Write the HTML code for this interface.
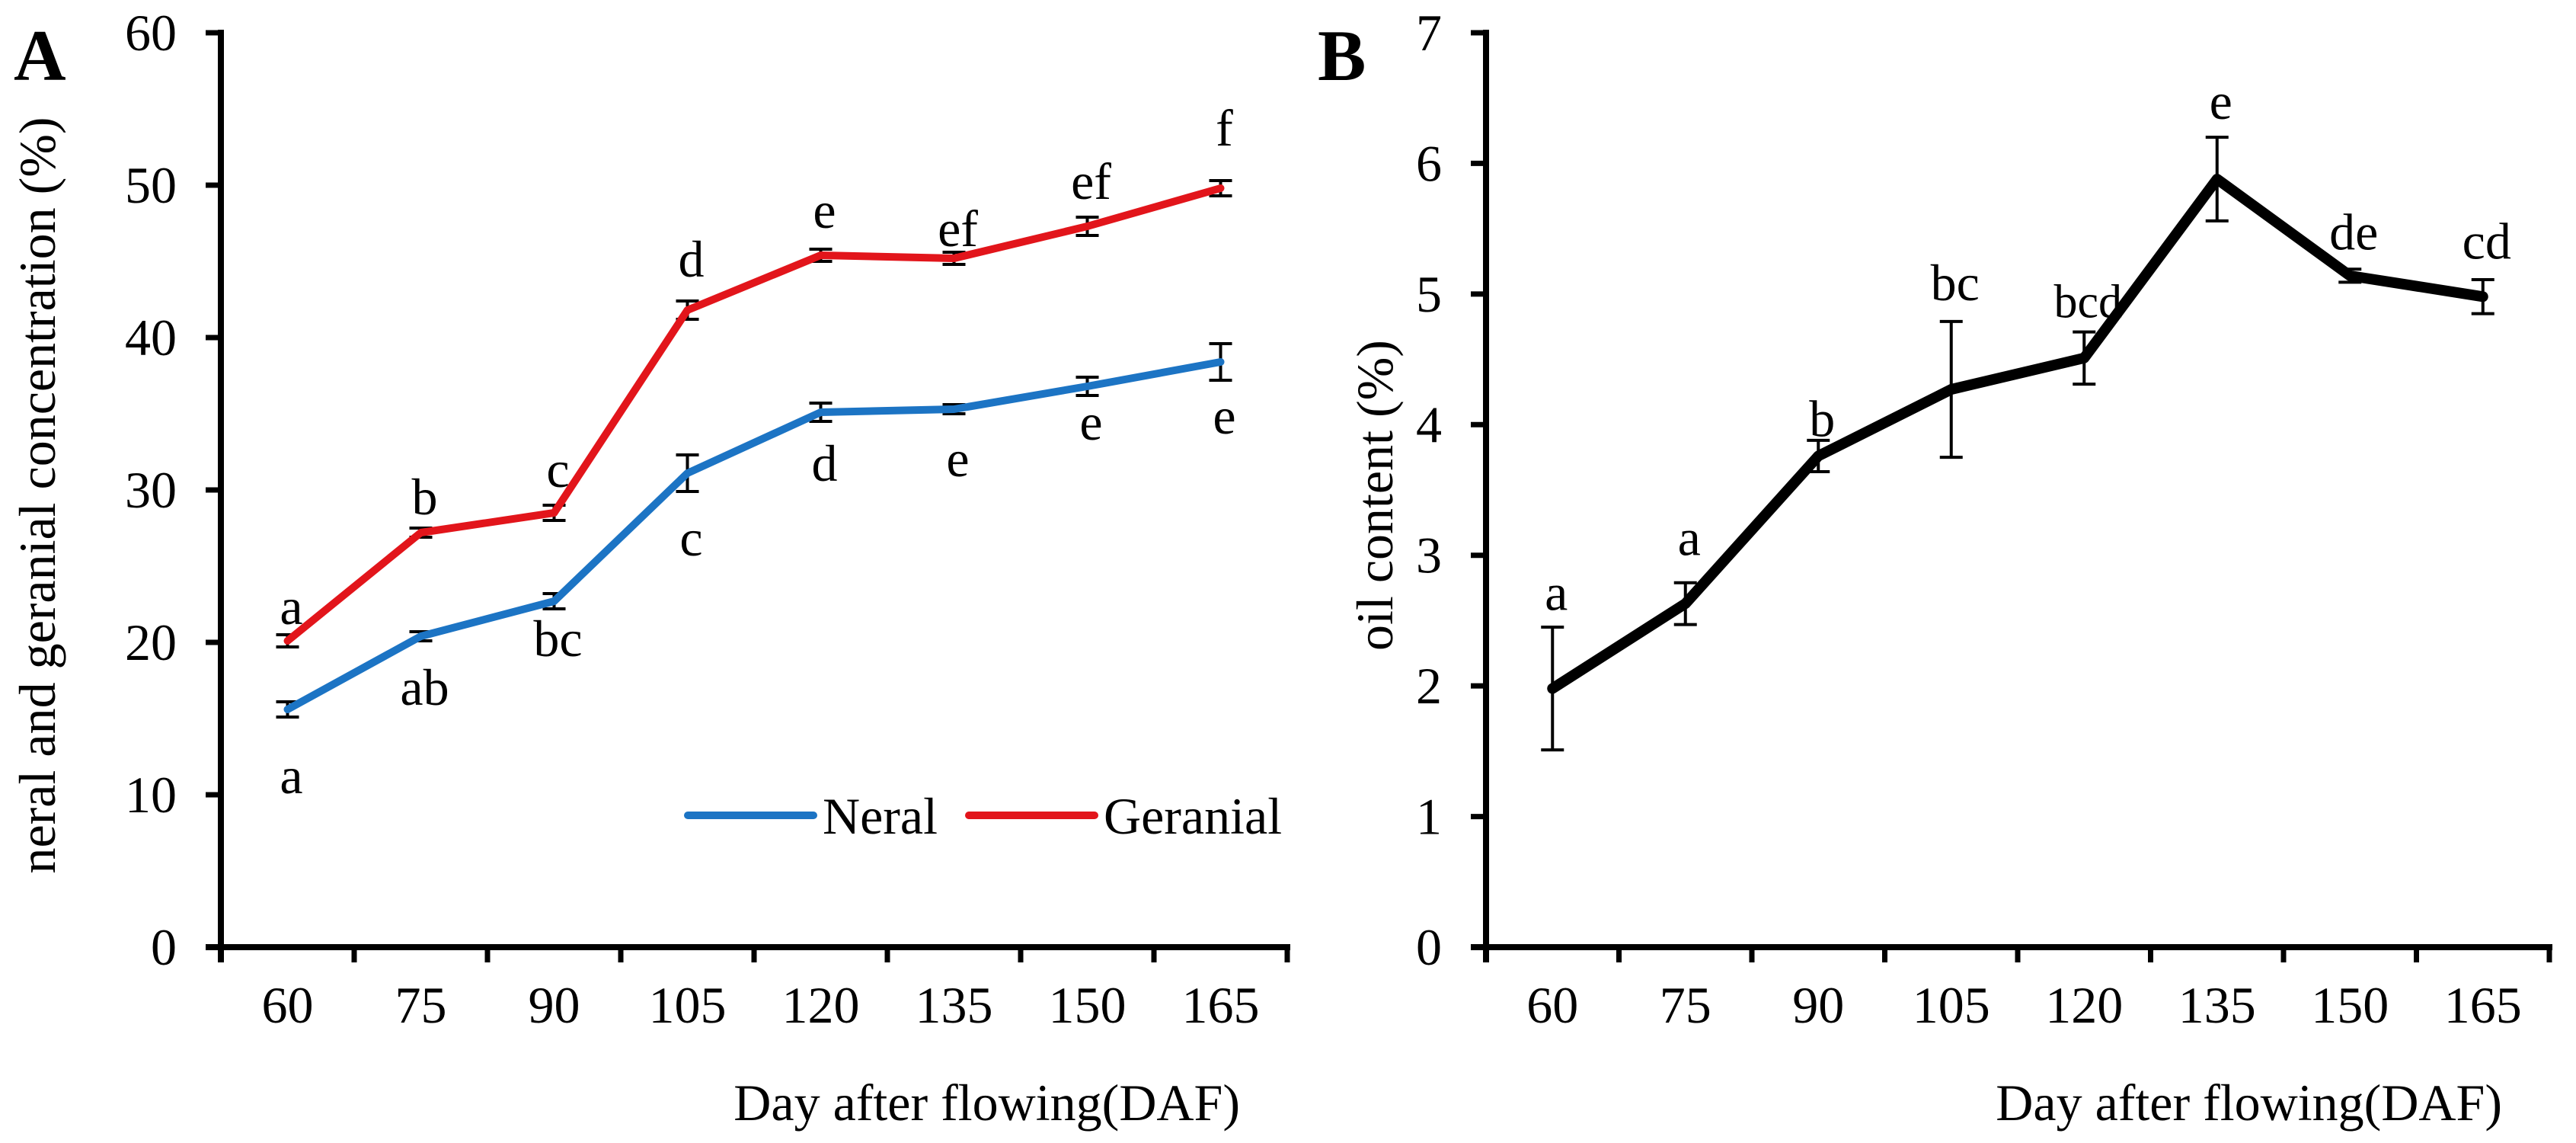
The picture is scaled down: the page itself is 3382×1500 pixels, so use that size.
<!DOCTYPE html>
<html><head><meta charset="utf-8"><style>
html,body{margin:0;padding:0;background:#fff}
svg text{font-family:"Liberation Serif","Times New Roman",serif;fill:#000}
</style></head><body>
<svg id="c" width="3382" height="1495" xmlns="http://www.w3.org/2000/svg"></svg>
<script>
const categories=["60","75","90","105","120","135","150","165"];
const neral=[15.6,20.4,22.7,31.1,35.1,35.3,36.8,38.4];
const neralErr=[0.5,0.3,0.5,1.2,0.6,0.3,0.6,1.2];
const geranial=[20.1,27.2,28.5,41.8,45.4,45.2,47.3,49.8];
const geranialErr=[0.4,0.3,0.5,0.6,0.4,0.4,0.6,0.5];
const neralLetters=["a","ab","bc","c","d","e","e","e"];
const neralLetterVals=[11.2,17,20.2,26.8,31.7,32,34.4,34.8];
const geranialLetters=["a","b","c","d","e","ef","ef","f"];
const geranialLetterVals=[22.3,29.5,31.3,45.1,48.3,47.1,50.2,53.7];
const ticksA=[0,10,20,30,40,50,60];
const oil=[1.98,2.63,3.76,4.27,4.51,5.88,5.14,4.98];
const oilErr=[0.47,0.16,0.12,0.52,0.2,0.32,0.05,0.13];
const oilLetters=["a","a","b","bc","bcd","e","de","cd"];
const oilLetterVals=[2.71,3.13,4.04,5.08,4.95,6.47,5.47,5.4];
const ticksB=[0,1,2,3,4,5,6,7];

const NS="http://www.w3.org/2000/svg";
const svg=document.getElementById('c');
function mk(tag,attrs,parent){const e=document.createElementNS(NS,tag);for(const k in attrs)e.setAttribute(k,attrs[k]);(parent||svg).appendChild(e);return e;}
function txt(s,attrs,parent){attrs['font-family']='Liberation Serif, Times New Roman, serif';const e=mk('text',attrs,parent);e.textContent=s;return e;}

function panel(o){
  const g=mk('g',{});
  
  
  const x0=o.x0,y0=1243,yTop=43,w=o.w,n=categories.length,step=w/n;
  const ys=v=>y0-(v/o.max)*(y0-yTop);
  const xs=i=>x0+step*(i+0.5);
  const ax=mk('g',{},g);
  
  
  mk('line',{x1:x0,y1:yTop-4,x2:x0,y2:y0+20,stroke:'#000','stroke-width':8},ax);
  o.ticks.forEach(t=>{
    mk('line',{x1:x0-20,y1:ys(t),x2:x0,y2:ys(t),stroke:'#000','stroke-width':7},ax);
    const l=txt(String(t),{x:x0-58,y:ys(t)+23,'font-size':68,'text-anchor':'end'},ax);
    
    
  });
  const xa=mk('g',{},g);
  
  
  mk('line',{x1:x0-20,y1:y0,x2:x0+w+4,y2:y0,stroke:'#000','stroke-width':8},xa);
  for(let i=0;i<=n;i++) mk('line',{x1:x0+step*i,y1:y0,x2:x0+step*i,y2:y0+20,stroke:'#000','stroke-width':7},xa);
  categories.forEach((c,i)=>{
    const l=txt(c,{x:xs(i),y:1342,'font-size':68,'text-anchor':'middle'},xa);
    
    
  });
  const xt=txt('Day after flowing(DAF)',{x:x0+w-62,y:1470,'font-size':68,'text-anchor':'end'},g);
  
  
  const yt=txt(o.ytitle,{x:0,y:0,'font-size':68,'text-anchor':'middle',transform:`translate(${o.ytx},650) rotate(-90)`},g);
  
  
  const pl=txt(o.letter,{x:o.lx,y:105,'font-size':95,'font-weight':'bold'},g);
  
  
  o.series.forEach(s=>{
    const sg=mk('g',{},g);
    
    
    s.vals.forEach((v,i)=>{
      const e=s.err[i],x=xs(i);
      mk('line',{x1:x,y1:ys(v-e),x2:x,y2:ys(v+e),stroke:'#000','stroke-width':4},sg);
      mk('line',{x1:x-15,y1:ys(v-e),x2:x+15,y2:ys(v-e),stroke:'#000','stroke-width':4},sg);
      mk('line',{x1:x-15,y1:ys(v+e),x2:x+15,y2:ys(v+e),stroke:'#000','stroke-width':4},sg);
    });
    const p=mk('polyline',{points:s.vals.map((v,i)=>xs(i)+','+ys(v)).join(' '),fill:'none',stroke:s.color,'stroke-width':s.sw,'stroke-linejoin':'round','stroke-linecap':'round'},sg);
    
    
    s.letters.forEach((L,i)=>{
      const t=txt(L,{x:xs(i)+5,y:ys(s.lv[i])+22,'font-size':L.length>2?62:68,'text-anchor':'middle'},sg);
      
      
    });
  });
  return g;
}
panel({name:'panel-a',x0:290,w:1400,max:60,ticks:ticksA,ytitle:'neral and geranial concentration (%)',ytx:72,letter:'A',lx:18,
  series:[
    {name:'neral-series',vals:neral,err:neralErr,color:'#1c74c4',sw:10,letters:neralLetters,lv:neralLetterVals},
    {name:'geranial-series',vals:geranial,err:geranialErr,color:'#e2151b',sw:10,letters:geranialLetters,lv:geranialLetterVals}
  ]});
panel({name:'panel-b',x0:1951,w:1396,max:7,ticks:ticksB,ytitle:'oil content (%)',ytx:1828,letter:'B',lx:1730,
  series:[{name:'oil-series',vals:oil,err:oilErr,color:'#000',sw:14,letters:oilLetters,lv:oilLetterVals}]});
const lg=mk('g',{});


const l1=mk('g',{},lg);


mk('line',{x1:903,y1:1070,x2:1068,y2:1070,stroke:'#1c74c4','stroke-width':10,'stroke-linecap':'round'},l1);
txt('Neral',{x:1080,y:1094,'font-size':68},l1);
const l2=mk('g',{},lg);


mk('line',{x1:1272,y1:1070,x2:1437,y2:1070,stroke:'#e2151b','stroke-width':10,'stroke-linecap':'round'},l2);
txt('Geranial',{x:1449,y:1094,'font-size':68},l2);
</script>
</body></html>
